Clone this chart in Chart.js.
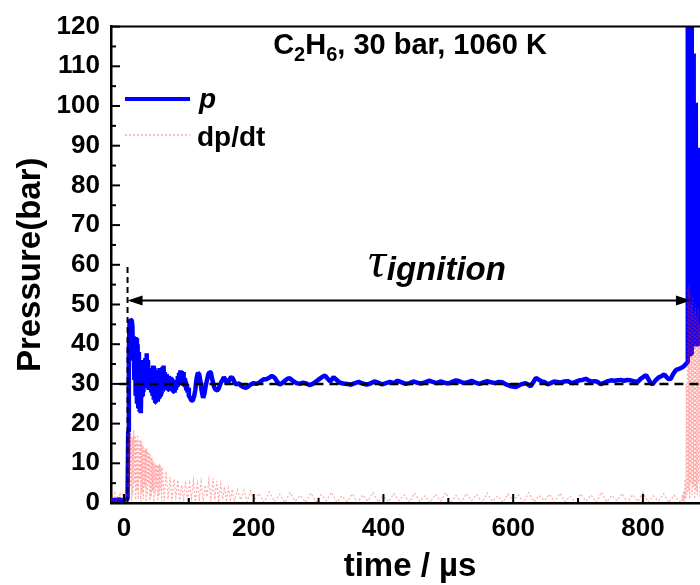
<!DOCTYPE html>
<html><head><meta charset="utf-8">
<script src="https://cdn.jsdelivr.net/npm/chart.js@4/dist/chart.umd.min.js"></script>
<style>html,body{margin:0;padding:0;background:#fff}</style>
</head><body>
<canvas id="c" width="700" height="585" style="display:block;width:700px;height:585px"></canvas>
<script>
// ---------- data ----------
const pTime = [-20,-14,-8,-2,3,5.5,6.5,7.5,8.5,10,12,13,14,15,16,17,18,19,20,21,22,23,24,25,26,27,28,29,30,31,32,33,34,35,36,37,38,39,40,41,42,43,44,45,46,47,48,49,50,51,52,53,54,55,56,57,58,59,60,61,62,63,
  64,65,66,67,68,69,70,71,72,73,74,75,76,77,78,79,80,81,82,83,84,85,86,87,88,89,90,91,92,93,94,95,96,97,98,99,100,
  102,104,106,108,110,112,114,116,118,120,122,124,126,128,130,132,134,136,138,140,142,144,146,148,150,152,154,156,158,160,162,164,166,168,170,172,174,176,178,180,184,188,192,196,200,204,208,212,216,220,224,228,232,236,240,244,248,252,256,260,266,271,276,281,286,291,296,301,306,310,314,318,323,328,333,338,344,350,356,362,368,374,380,386,392,398,404,410,416,422,428,434,440,446,452,458,464,470,476,482,488,494,500,506,512,518,524,530,536,542,548,554,560,566,572,578,583,590,597,604,611,619,623,627,631,635,640,644,648,653,658,663,668,673,678,684,688,692,697,702,707,712,716,721,726,730,735,740,746,751,756,761,766,771,776,781,786,792,796,801,805,809,812,815,819,824,829,833,837,840,843,846,849,852,856,861,864,866,
  868.5,868.9,869.4,874.8,875.2,875.7,877.6,878.0,878.5,881.1,881.5,882.0,886.0,886.4,886.9,888];
const pValue = [0.8,0.7,0.9,0.7,0.9,1.0,18,38,45,46.2,46,44.5,36,42,31,41.8,27,41.5,25,40,24,38,23,36,22.6,33,27,31,28,34,29,36.5,30,37.7,31,36,28.5,34,29,33,28,34,27,34.6,26,34,25.4,33.5,26,33,25.5,33,26.5,34,27,33.5,27.5,34.2,28,34.6,29,33,
  29,32.5,28.5,31.8,28.5,32,28.8,31.8,28.5,31.5,28.2,30.5,28,30,27.8,30.5,28.5,31,29.5,32,30,32.8,30.5,33.4,30.5,33.2,30.2,33,29.5,31.5,29.2,30.8,28.5,30,27.8,29,27,
  26.5,25.8,25.8,26.8,28.5,31.5,32.8,32.4,30.5,28,26.5,27.5,29.5,31,32.4,33,32.8,31.2,29.8,28.8,28.5,28.4,28.8,29.8,30.5,31,31.7,31.2,30.4,30.2,30.8,31.5,31.7,31.3,30.6,30,29.8,30.2,30,29.6,29.2,29,29.4,29.9,30.2,30,30.3,30.8,31.2,31.2,31.6,32,31.6,30.6,29.8,30.2,30.8,31.3,31.4,30.8,30.2,30,30.3,30.1,29.7,30,30.6,31.2,31.8,32.1,31.3,30.6,31.7,31,30.3,30.1,30,29.8,30.2,30.5,30.1,29.8,30.1,30.6,30.3,29.9,30.2,30.5,30.2,30.8,30.4,30,30.2,30.6,30.3,30.1,30.4,30.8,30.5,30.2,30.6,30.3,30.1,30.5,30.9,30.6,30.2,30.4,30.8,30.3,30,30.4,30.7,30.4,30.2,30.5,30.4,29.8,29.4,29.2,29.8,30.2,29.8,29.4,30.4,31.5,31,30.6,30.5,29.9,30.2,30.6,30.5,30.3,30.6,30.7,30.4,30.2,30.6,30.9,31,31.3,30.9,30.6,30.7,30.5,29.9,30.3,30.7,30.9,30.8,30.9,31,30.8,31,30.9,30.7,30.5,31.2,31.8,32.2,31,30.2,29.9,30.8,31.6,32,32.4,31.6,31.2,31.3,32.3,33.1,33.6,33.8,34.2,34.6,35,
  35.3,126,37.5,37.5,126,40,40,113.2,40,40,100.8,40,40,89.5,42,42];

const dpTime = [-20,-18,-16,-14,-12,-10,-8,-6,-4,-2,0,2,4,
  6,7,8,9,10,11,12,13,14,15,16,17,18,19,20,21,22,23,24,25,26,27,28,29,30,31,32,33,34,35,36,37,38,39,40,41,42,43,44,45,46,47,48,49,50,51,52,53,54,55,56,57,58,59,
  62,65,68,71,74,77,80,83,86,89,92,95,98,101,104,107,110,113,116,119,122,125,128,131,134,137,140,143,146,149,152,155,158,161,164,167,170,175,180,185,190,195,200,
  208,216,224,232,240,248,256,264,272,280,288,296,304,312,320,328,336,344,352,360,368,376,384,392,400,408,416,424,432,440,448,456,464,472,480,488,496,504,512,520,528,536,544,552,560,568,576,584,592,600,608,616,624,632,640,648,656,664,672,680,688,696,704,712,720,728,736,744,752,760,768,776,784,792,800,808,816,824,832,840,848,856,
  860,861,862,863,864,865,866,867,868,869,870,871,872,873,874,875,876,877,878,879,880,881,882,883,884,885,886,887,888];
const dpValue = [0.4,1.8,0.2,2.4,0.6,1.5,0.1,2.6,0.7,2.0,0.3,2.8,0.5,
  3,17,1.5,18,4,17.5,0.5,16.5,2,18.3,5,17,0.8,16,3,17.2,1,15.5,6,16,0.4,15.5,2.5,14.5,1,14,4,13.5,0.3,13.8,2,13,5,12.5,0.6,12,1.5,11.5,3,10.5,0.2,10,2.2,9.8,4,9.5,0.5,9.6,1.8,9.8,3,9.2,0.4,9,
  0.5,8,1,6.5,0.3,6,1.5,5.8,0.2,4.5,1,5.5,0.4,5,1.2,5.6,0.3,4.8,1,5.3,0.2,4.5,1.5,5.8,0.4,6.2,0.8,5.5,0.2,4.8,1,4,0.3,3.8,0.9,3.5,0.2,3.3,0.8,3.2,0.3,3.0,0.6,
  2.4,0.2,2.8,0.4,2.2,0.1,2.6,0.5,1.9,0.2,2.5,0.3,2.1,0.6,2.7,0.2,1.8,0.4,2.3,0.1,2.0,0.5,2.6,0.2,1.7,0.3,2.4,0.6,2.0,0.2,2.5,0.4,1.8,0.1,2.2,0.5,2.6,0.3,1.9,0.2,2.4,0.6,2.1,0.1,2.5,0.4,1.8,0.2,2.3,0.5,2.0,0.1,2.6,0.3,1.9,0.6,2.2,0.2,2.5,0.4,1.7,0.1,2.3,0.5,2.0,0.2,2.7,0.3,1.9,0.6,2.4,0.1,2.1,0.4,2.6,0.2,1.8,0.5,2.3,0.1,2.0,0.4,
  0.2,2,0.5,3,0.4,6,1,30,2,54,3,55,1,53,5,50,2,52,4,48,1,50,3,47,2,49,5,45,1];

const xTickValues = [0,200,400,600,800];
const xMinorValues = [100,300,500,700];
const yTickValues = [0,10,20,30,40,50,60,70,80,90,100,110,120];
const yMinorValues = [5,15,25,35,45,55,65,75,85,95,105,115];

// annotation values (in data units)
const shockTime = 5.5, shockLineTop = 60;
const baselinePressure = 30, baselineStart = -7;
const arrowPressure = 51, ignitionTime = 874;
const tauTime = 376, tauPressure = 57;

// ---------- styling ----------
const SANS = '"Liberation Sans", Arial, sans-serif';
const PINK = 'rgba(255,30,30,0.38)';

const decor = {
  id: 'decor',
  afterDatasetsDraw(chart) {
    const {ctx, chartArea: a, scales: {x, y}} = chart;
    ctx.save();
    ctx.strokeStyle = '#000'; ctx.lineWidth = 2;
    ctx.beginPath(); ctx.moveTo(a.left, a.top); ctx.lineTo(a.right, a.top); ctx.stroke();
    const tk = (vals, len, axis) => vals.forEach(v => {
      ctx.beginPath();
      if (axis === 'y') { const py = y.getPixelForValue(v); ctx.moveTo(a.left, py); ctx.lineTo(a.left + len, py); }
      else { const px = x.getPixelForValue(v); ctx.moveTo(px, a.bottom); ctx.lineTo(px, a.bottom - len); }
      ctx.stroke();
    });
    tk(yTickValues, 9, 'y'); tk(yMinorValues, 5, 'y');
    tk(xTickValues, 9, 'x'); tk(xMinorValues, 5, 'x');
    ctx.setLineDash([6, 4]); ctx.lineWidth = 2;
    const xs = x.getPixelForValue(shockTime);
    ctx.beginPath(); ctx.moveTo(xs, y.getPixelForValue(0)); ctx.lineTo(xs, y.getPixelForValue(shockLineTop)); ctx.stroke();
    ctx.setLineDash([9, 6]); ctx.lineWidth = 2.5;
    const yb = y.getPixelForValue(baselinePressure);
    ctx.beginPath(); ctx.moveTo(x.getPixelForValue(baselineStart), yb); ctx.lineTo(a.right, yb); ctx.stroke();
    ctx.setLineDash([]); ctx.lineWidth = 2;
    const ya = y.getPixelForValue(arrowPressure);
    const x1 = xs, x2 = x.getPixelForValue(ignitionTime);
    ctx.beginPath(); ctx.moveTo(x1 + 4, ya); ctx.lineTo(x2 - 4, ya); ctx.stroke();
    ctx.fillStyle = '#000';
    ctx.beginPath(); ctx.moveTo(x1, ya); ctx.lineTo(x1 + 15, ya - 5); ctx.lineTo(x1 + 15, ya + 5); ctx.closePath(); ctx.fill();
    ctx.beginPath(); ctx.moveTo(x2, ya); ctx.lineTo(x2 - 15, ya - 5); ctx.lineTo(x2 - 15, ya + 5); ctx.closePath(); ctx.fill();
    const tx = x.getPixelForValue(tauTime), ty = y.getPixelForValue(tauPressure);
    ctx.textBaseline = 'alphabetic'; ctx.textAlign = 'left';
    ctx.font = 'italic 50px "Liberation Serif", "DejaVu Serif", serif';
    ctx.fillText('τ', tx, ty);
    const tw = ctx.measureText('τ').width;
    ctx.font = 'italic bold 33px ' + SANS;
    ctx.fillText('ignition', tx + tw + 1, ty + 3);
    ctx.restore();
  },
  afterDraw(chart) {
    const {ctx, chartArea: a} = chart;
    ctx.save();
    ctx.fillStyle = '#000'; ctx.textBaseline = 'alphabetic'; ctx.textAlign = 'left';
    const parts = [['C', 29, 0], ['2', 20, 7], ['H', 29, 0], ['6', 20, 7], [', 30 bar, 1060 K', 29, 0]];
    let total = 0;
    parts.forEach(p => { ctx.font = 'bold ' + p[1] + 'px ' + SANS; total += ctx.measureText(p[0]).width; });
    let cx = 410 - total / 2;
    parts.forEach(p => { ctx.font = 'bold ' + p[1] + 'px ' + SANS; ctx.fillText(p[0], cx, 54 + p[2]); cx += ctx.measureText(p[0]).width; });
    ctx.strokeStyle = '#0000ff'; ctx.lineWidth = 4;
    ctx.beginPath(); ctx.moveTo(125, 99); ctx.lineTo(190, 99); ctx.stroke();
    ctx.strokeStyle = PINK; ctx.lineWidth = 1.5; ctx.setLineDash([2, 2]);
    ctx.beginPath(); ctx.moveTo(125, 135); ctx.lineTo(190, 135); ctx.stroke();
    ctx.setLineDash([]);
    ctx.font = 'italic bold 28px ' + SANS; ctx.fillText('p', 199, 108);
    ctx.font = 'bold 28px ' + SANS; ctx.fillText('dp/dt', 197, 146);
    ctx.font = 'bold 33px ' + SANS; ctx.textAlign = 'center'; ctx.textBaseline = 'middle';
    ctx.fillText('time / µs', 410, 567);
    ctx.translate(31, (a.top + a.bottom) / 2);
    ctx.rotate(-Math.PI / 2);
    ctx.fillText('Pressure(bar)', 0, 0);
    ctx.restore();
  }
};

const tickFont = {family: SANS, size: 26, weight: 'bold'};
new Chart(document.getElementById('c'), {
  type: 'line',
  data: {
    datasets: [
      {label: 'dp/dt', data: dpTime.map((t, i) => ({x: t, y: dpValue[i]})),
       borderColor: PINK, borderWidth: 1.2, borderDash: [2, 2], pointRadius: 0, tension: 0, clip: 0},
      {label: 'p', data: pTime.map((t, i) => ({x: t, y: pValue[i]})),
       borderColor: '#0000ff', borderWidth: 4.5, pointRadius: 0, tension: 0, clip: 0, borderJoinStyle: 'bevel'}
    ]
  },
  options: {
    responsive: false, animation: false, devicePixelRatio: 1, events: [],
    layout: {padding: {top: 25, left: 0, right: 0, bottom: 0}, autoPadding: false},
    plugins: {legend: {display: false}, tooltip: {enabled: false}, title: {display: false}},
    scales: {
      x: {type: 'linear', min: -20, max: 888,
          afterBuildTicks: s => { s.ticks = xTickValues.map(v => ({value: v})); },
          afterFit: s => { s.height = 82; },
          grid: {display: false, drawTicks: false},
          border: {display: true, color: '#000', width: 2.5},
          ticks: {padding: 10, font: tickFont, color: '#000', maxRotation: 0, autoSkip: false}},
      y: {type: 'linear', min: 0, max: 120,
          afterBuildTicks: s => { s.ticks = yTickValues.map(v => ({value: v})); },
          afterFit: s => { s.width = 111; },
          grid: {display: false, drawTicks: false},
          border: {display: true, color: '#000', width: 2.5},
          ticks: {padding: 11, font: tickFont, color: '#000', autoSkip: false}}
    }
  },
  plugins: [decor]
});
</script>
</body></html>
